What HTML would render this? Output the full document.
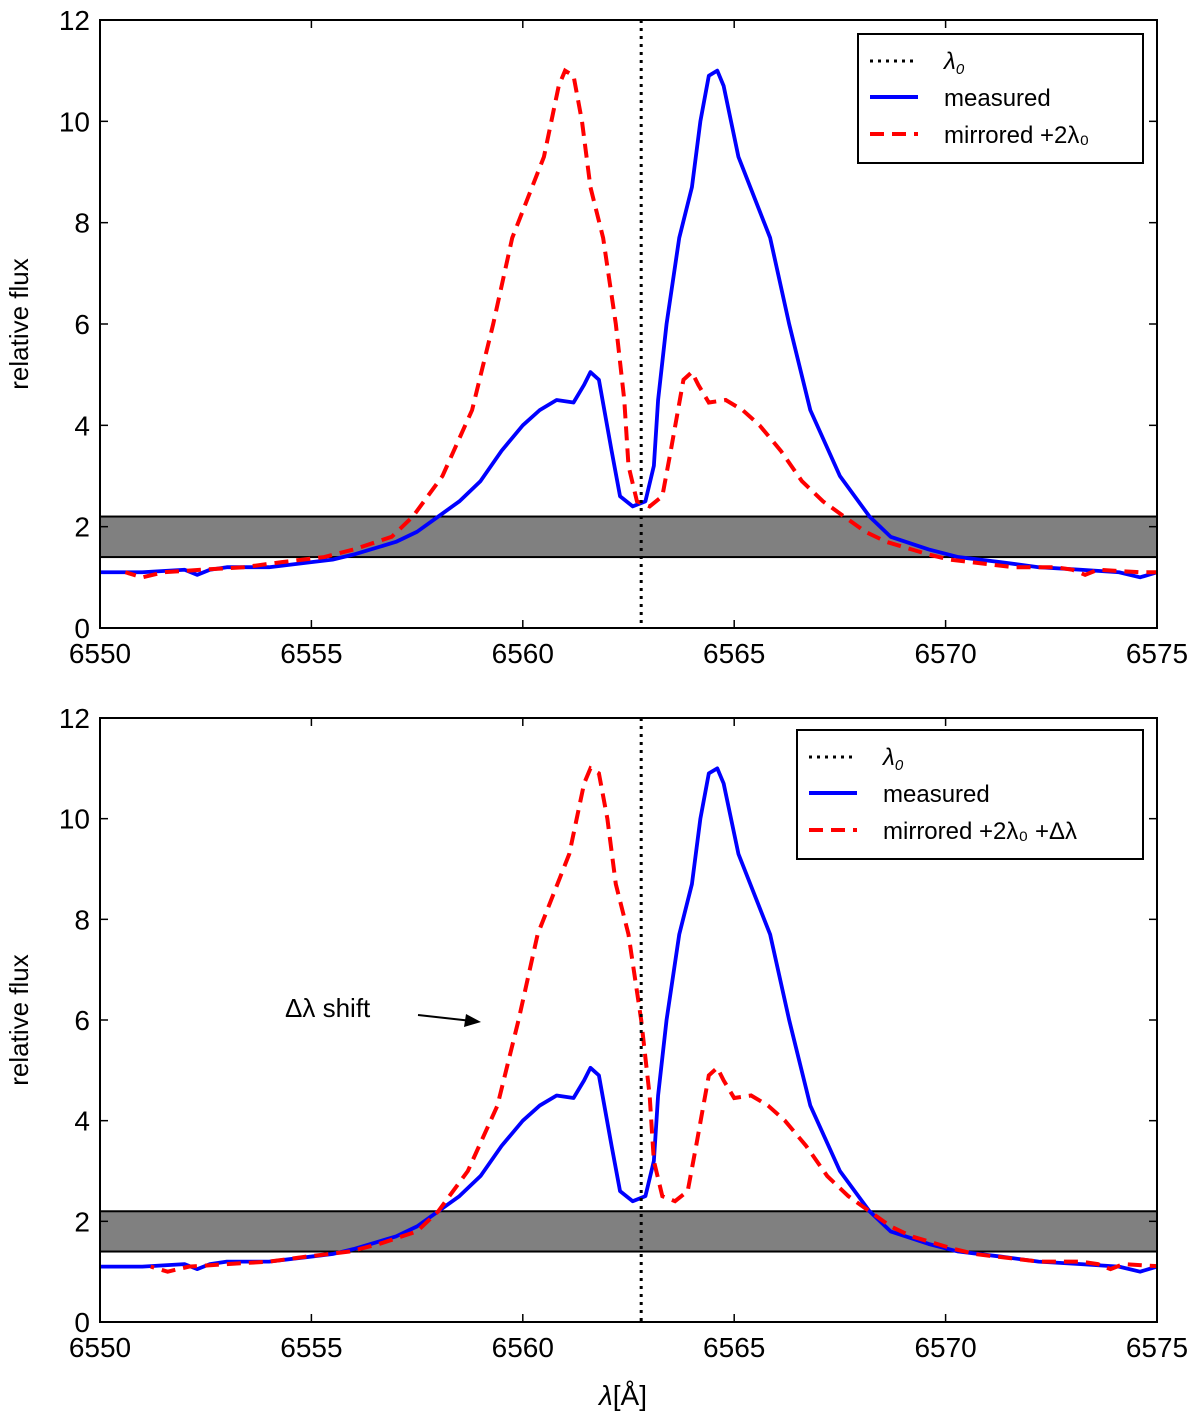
<!DOCTYPE html>
<html><head><meta charset="utf-8"><style>
body{margin:0;background:#fff;}
svg text{font-family:"Liberation Sans",sans-serif;}
</style></head><body>
<svg id="fig" width="1200" height="1416" xmlns="http://www.w3.org/2000/svg"></svg>
<script>
const measX=[6550,6551,6552,6552.3,6552.6,6553,6554,6555,6555.5,6556,6557,6557.5,6558,6558.5,6559,6559.5,6560,6560.4,6560.8,6561.2,6561.45,6561.6,6561.8,6562.1,6562.3,6562.6,6562.9,6563.1,6563.2,6563.4,6563.7,6564,6564.2,6564.4,6564.6,6564.75,6565.1,6565.85,6566.3,6566.8,6567.5,6568.2,6568.7,6569.6,6570.3,6571.3,6572.2,6573.2,6574.1,6574.6,6575];
const measY=[1.1,1.1,1.15,1.05,1.15,1.2,1.2,1.3,1.35,1.45,1.7,1.9,2.2,2.5,2.9,3.5,4.0,4.3,4.5,4.45,4.8,5.05,4.9,3.5,2.6,2.4,2.5,3.2,4.5,6.0,7.7,8.7,10.0,10.9,11.0,10.7,9.3,7.7,6.0,4.3,3.0,2.2,1.8,1.55,1.4,1.3,1.2,1.15,1.1,1.0,1.1];
const lambda0=6562.8;
const deltaLambda=0.6;
const xTicks=[6550,6555,6560,6565,6570,6575];
const yTicks=[0,2,4,6,8,10,12];
const band=[1.4,2.2];
const NS="http://www.w3.org/2000/svg";
const svg=document.getElementById('fig');
function mk(tag,attrs,parent){const e=document.createElementNS(NS,tag);for(const k in attrs)e.setAttribute(k,attrs[k]);(parent||svg).appendChild(e);return e;}
function panel(top,bottom,shift,legendLabel,lg){
  const L=100,R=1157;
  const g=mk('g',{});
  
  
  const sx=v=>L+(v-6550)/25*(R-L);
  const sy=v=>bottom-v/12*(bottom-top);
  const b=mk('rect',{x:L,y:sy(band[1]),width:R-L,height:sy(band[0])-sy(band[1]),fill:'#808080',stroke:'#000','stroke-width':2},g);
  
  const clip='c'+top;
  const cp=mk('clipPath',{id:clip},g);mk('rect',{x:L,y:top,width:R-L,height:bottom-top},cp);
  const blue=mk('polyline',{points:measX.map((x,i)=>sx(x)+','+sy(measY[i])).join(' '),fill:'none',stroke:'#0000ff','stroke-width':3.8,'stroke-linejoin':'round','clip-path':`url(#${clip})`},g);
  
  const red=mk('polyline',{points:measX.map((x,i)=>sx(2*lambda0-x+shift)+','+sy(measY[i])).join(' '),fill:'none',stroke:'#ff0000','stroke-width':4,'stroke-dasharray':'14,8','clip-path':`url(#${clip})`},g);
  
  const v=mk('line',{x1:sx(lambda0),x2:sx(lambda0),y1:top,y2:bottom,stroke:'#000','stroke-width':3,'stroke-dasharray':'3,5'},g);
  
  const f=mk('rect',{x:L,y:top,width:R-L,height:bottom-top,fill:'none',stroke:'#000','stroke-width':2},g);
  
  xTicks.forEach(t=>{const x=sx(t);mk('line',{x1:x,x2:x,y1:bottom,y2:bottom-8,stroke:'#000','stroke-width':1.5},g);mk('line',{x1:x,x2:x,y1:top,y2:top+8,stroke:'#000','stroke-width':1.5},g);
    const tx=mk('text',{x:x,y:bottom+35,'text-anchor':'middle','font-size':28},g);tx.textContent=t;
    });
  yTicks.forEach(t=>{const y=sy(t);mk('line',{x1:L,x2:L+8,y1:y,y2:y,stroke:'#000','stroke-width':1.5},g);mk('line',{x1:R,x2:R-8,y1:y,y2:y,stroke:'#000','stroke-width':1.5},g);
    const tx=mk('text',{x:L-10,y:y+10,'text-anchor':'end','font-size':28},g);tx.textContent=t;
    });
  const yl=mk('text',{x:0,y:0,transform:`translate(28,${(top+bottom)/2}) rotate(-90)`,'text-anchor':'middle','font-size':26},g);yl.textContent='relative flux';
  
  const lgG=mk('g',{},g);
  mk('rect',{x:lg[0],y:lg[1],width:lg[2],height:129,fill:'#fff',stroke:'#000','stroke-width':2},lgG);
  const ly=[lg[1]+27,lg[1]+63,lg[1]+100];
  mk('line',{x1:lg[0]+12,x2:lg[0]+60,y1:ly[0],y2:ly[0],stroke:'#000','stroke-width':3,'stroke-dasharray':'3,5'},lgG);
  mk('line',{x1:lg[0]+12,x2:lg[0]+60,y1:ly[1],y2:ly[1],stroke:'#0000ff','stroke-width':4},lgG);
  mk('line',{x1:lg[0]+12,x2:lg[0]+60,y1:ly[2],y2:ly[2],stroke:'#ff0000','stroke-width':4,'stroke-dasharray':'14,8'},lgG);
  const t1=mk('text',{x:lg[0]+86,y:ly[0]+8,'font-size':24,'font-family':'Liberation Serif','font-style':'italic'},lgG);t1.innerHTML='λ<tspan font-size="15" dy="5">0</tspan>';
  const t2=mk('text',{x:lg[0]+86,y:ly[1]+9,'font-size':24},lgG);t2.textContent='measured';
  const t3=mk('text',{x:lg[0]+86,y:ly[2]+9,'font-size':24},lgG);t3.textContent=legendLabel;
  return {sx,sy};
}
panel(20,628,0,'mirrored +2λ₀',[858,34,285]);
const p=panel(718,1322,deltaLambda,'mirrored +2λ₀ +Δλ',[797,730,346]);
const an=mk('text',{x:285,y:1017,'font-size':26});an.textContent='Δλ shift';

mk('line',{x1:418,x2:472,y1:1015,y2:1021,stroke:'#000','stroke-width':2});
mk('polygon',{points:'481,1022 466,1014 464,1027',fill:'#000'});
const xl=mk('text',{x:623,y:1405,'text-anchor':'middle','font-size':28,'font-family':'Liberation Serif'});xl.innerHTML='<tspan font-style="italic">λ</tspan>[Å]';

</script>
</body></html>
